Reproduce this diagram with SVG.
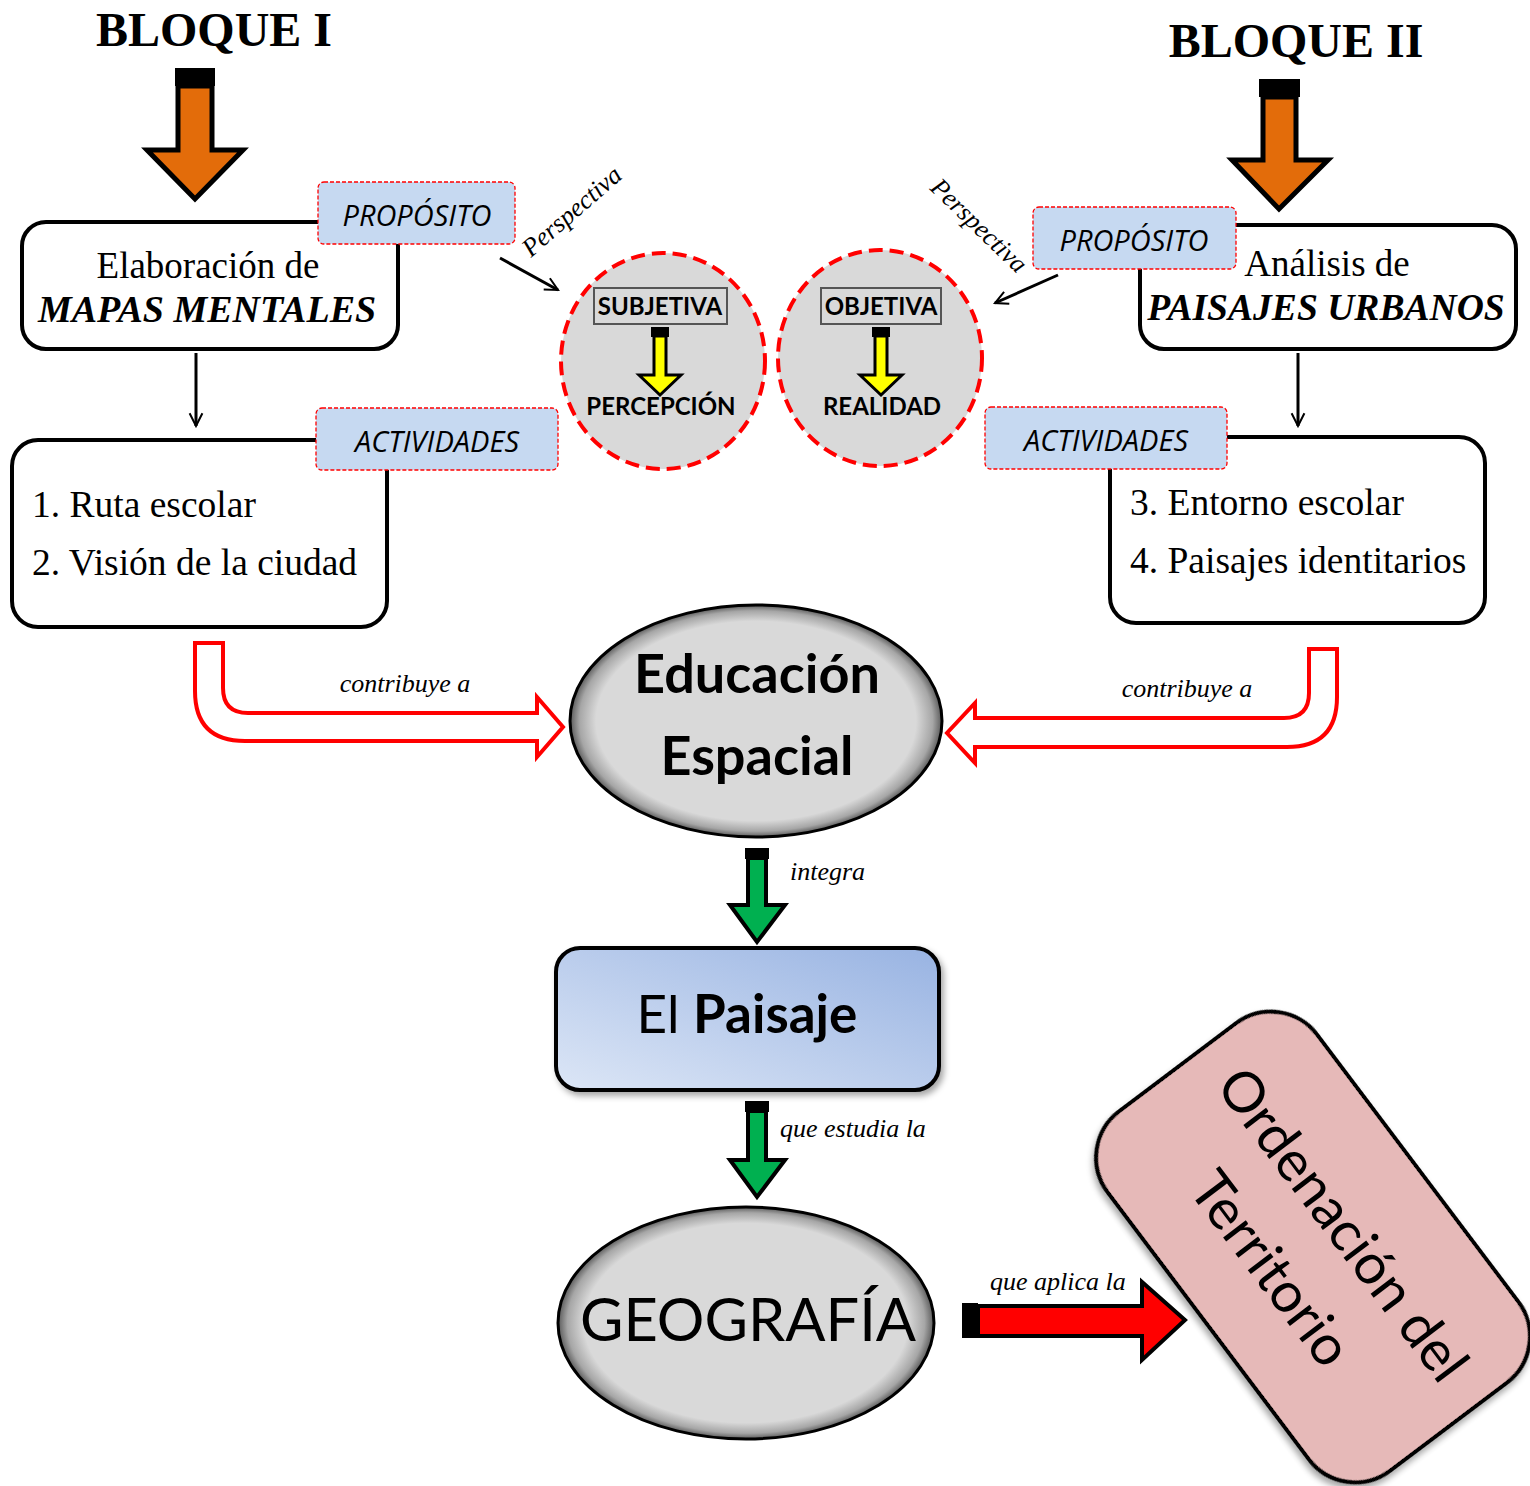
<svg xmlns="http://www.w3.org/2000/svg" width="1530" height="1486" viewBox="0 0 1530 1486">
<style>
.box{fill:#fff;stroke:#000;stroke-width:4}
.tag{fill:#c6d9f1;stroke:#ff0000;stroke-width:1.3;stroke-dasharray:4 2}
.tagt{font-family:"Open Sans",sans-serif;font-style:italic;font-size:29px;fill:#000;text-anchor:middle}
.ser{font-family:"Liberation Serif",serif;fill:#000}
.lbl{font-family:"Liberation Serif",serif;font-style:italic;font-size:26px;fill:#000}
.cal{font-family:Lato,"Open Sans",sans-serif;fill:#000}
.circ{fill:#d9d9d9;stroke:#ff0000;stroke-width:4;stroke-dasharray:14 7}
.thin{stroke:#000;stroke-width:3;fill:none}
.hollow{fill:#fff;stroke:#ff0000;stroke-width:4;stroke-linejoin:miter}
.blk{stroke:#000;stroke-linejoin:miter}
</style>
<defs>
<marker id="open" viewBox="0 0 20 20" refX="18" refY="10" markerWidth="16" markerHeight="16" markerUnits="userSpaceOnUse" orient="auto">
<path d="M2,2 L18,10 L2,18" fill="none" stroke="#000" stroke-width="2.5"/>
</marker>
<radialGradient id="bevel" cx="0.5" cy="0.5" r="0.5">
<stop offset="0" stop-color="#d9d9d9"/>
<stop offset="0.86" stop-color="#d9d9d9"/>
<stop offset="0.95" stop-color="#a6a6a6"/>
<stop offset="1" stop-color="#5a5a5a"/>
</radialGradient>
<linearGradient id="blue" x1="0" y1="1" x2="1" y2="0">
<stop offset="0" stop-color="#dce6f6"/>
<stop offset="1" stop-color="#98b3e2"/>
</linearGradient>
<filter id="sh" x="-10%" y="-10%" width="125%" height="125%">
<feGaussianBlur in="SourceAlpha" stdDeviation="3"/>
<feOffset dx="3" dy="4" result="b"/>
<feFlood flood-color="#000" flood-opacity="0.35"/>
<feComposite in2="b" operator="in"/>
<feMerge><feMergeNode/><feMergeNode in="SourceGraphic"/></feMerge>
</filter>
</defs>

<g id="bloque1">
<text class="ser" x="214" y="46" font-size="48" font-weight="bold" text-anchor="middle">BLOQUE I</text>
</g>
<g id="bloque2">
<text class="ser" x="1296" y="57" font-size="48" font-weight="bold" text-anchor="middle">BLOQUE II</text>
</g>

<g id="box-mapas">
<rect class="box" x="22" y="222" width="376" height="127" rx="24"/>
<text class="ser" x="208" y="278" font-size="37" text-anchor="middle">Elaboración de</text>
<text class="ser" x="207" y="322" font-size="38" font-weight="bold" font-style="italic" text-anchor="middle">MAPAS MENTALES</text>
</g>
<g id="tag-proposito-1">
<rect class="tag" x="318" y="182" width="197" height="62" rx="6"/>
<text class="tagt" x="417" y="226">PROPÓSITO</text>
</g>

<g id="box-act1">
<rect class="box" x="12" y="440" width="375" height="187" rx="26"/>
<text class="ser" x="32" y="517" font-size="37.5">1. Ruta escolar</text>
<text class="ser" x="32" y="575" font-size="37.5">2. Visión de la ciudad</text>
</g>
<g id="tag-actividades-1">
<rect class="tag" x="316" y="408" width="242" height="62" rx="6"/>
<text class="tagt" x="437" y="452" font-size="30">ACTIVIDADES</text>
</g>

<g id="box-paisajes">
<rect class="box" x="1140" y="225" width="376" height="124" rx="24"/>
<text class="ser" x="1327" y="276" font-size="37" text-anchor="middle">Análisis de</text>
<text class="ser" x="1326" y="320" font-size="37.6" font-weight="bold" font-style="italic" text-anchor="middle">PAISAJES URBANOS</text>
</g>
<g id="tag-proposito-2">
<rect class="tag" x="1033" y="207" width="203" height="62" rx="6"/>
<text class="tagt" x="1134" y="251">PROPÓSITO</text>
</g>

<g id="box-act2">
<rect class="box" x="1110" y="437" width="375" height="186" rx="26"/>
<text class="ser" x="1130" y="515" font-size="37.5">3. Entorno escolar</text>
<text class="ser" x="1130" y="573" font-size="37.5">4. Paisajes identitarios</text>
</g>
<g id="tag-actividades-2">
<rect class="tag" x="985" y="407" width="242" height="62" rx="6"/>
<text class="tagt" x="1106" y="451" font-size="30">ACTIVIDADES</text>
</g>

<g id="circle-subjetiva">
<ellipse class="circ" cx="663" cy="361" rx="102" ry="108"/>
<rect x="594" y="288" width="133" height="36" fill="#d9d9d9" stroke="#555" stroke-width="2"/>
<text class="cal" x="660" y="315" font-size="24" font-weight="bold" text-anchor="middle">SUBJETIVA</text>
<rect x="651" y="327" width="18" height="10" fill="#000"/>
<path class="blk" d="M654,336 L666,336 L666,375 L681,375 L660,395 L639,375 L654,375 Z" fill="#ffff00" stroke-width="3"/>
<text class="cal" x="661" y="415" font-size="24" font-weight="bold" text-anchor="middle">PERCEPCIÓN</text>
</g>

<g id="circle-objetiva">
<ellipse class="circ" cx="880" cy="358" rx="102" ry="108"/>
<rect x="821" y="288" width="120" height="36" fill="#d9d9d9" stroke="#555" stroke-width="2"/>
<text class="cal" x="881" y="315" font-size="24" font-weight="bold" text-anchor="middle">OBJETIVA</text>
<rect x="872" y="327" width="18" height="10" fill="#000"/>
<path class="blk" d="M875,336 L887,336 L887,375 L902,375 L881,395 L860,375 L875,375 Z" fill="#ffff00" stroke-width="3"/>
<text class="cal" x="882" y="415" font-size="24" font-weight="bold" text-anchor="middle">REALIDAD</text>
</g>

<g id="educacion-espacial">
<ellipse cx="756" cy="721" rx="186" ry="116" fill="url(#bevel)" stroke="#000" stroke-width="3"/>
<text class="cal" x="757" y="693" font-size="54" font-weight="bold" text-anchor="middle">Educación</text>
<text class="cal" x="757" y="775" font-size="54" font-weight="bold" text-anchor="middle">Espacial</text>
</g>

<g id="el-paisaje">
<rect x="556" y="948" width="383" height="142" rx="24" fill="url(#blue)" stroke="#000" stroke-width="4" filter="url(#sh)"/>
<text class="cal" x="747" y="1033" font-size="53" text-anchor="middle">El <tspan font-weight="bold">Paisaje</tspan></text>
</g>

<g id="geografia">
<ellipse cx="746" cy="1323" rx="188" ry="116" fill="url(#bevel)" stroke="#000" stroke-width="3"/>
<text class="cal" x="748" y="1341" font-size="59.5" text-anchor="middle">GEOGRAFÍA</text>
</g>

<g id="ordenacion">
<g transform="translate(1313,1247) rotate(53)">
<rect x="-225" y="-131" width="450" height="262" rx="58" fill="#e6b9b8" stroke="#000" stroke-width="4" filter="url(#sh)"/>
<text class="cal" x="0" y="-18" font-size="56" text-anchor="middle">Ordenación del</text>
<text class="cal" x="-8" y="66" font-size="56" text-anchor="middle">Territorio</text>
</g>
</g>

<g id="connectors">
<rect x="175" y="68" width="40" height="18" fill="#000"/>
<path class="blk" d="M178,86 L212,86 L212,150 L243,150 L195,199 L147,150 L178,150 Z" fill="#e36c0a" stroke-width="5"/>
<rect x="1259" y="79" width="41" height="18" fill="#000"/>
<path class="blk" d="M1263,97 L1296,97 L1296,160 L1328,160 L1279,209 L1232,160 L1263,160 Z" fill="#e36c0a" stroke-width="5"/>

<line class="thin" x1="196" y1="353" x2="196" y2="426" marker-end="url(#open)"/>
<line class="thin" x1="1298" y1="353" x2="1298" y2="426" marker-end="url(#open)"/>

<line class="thin" x1="500" y1="258" x2="558" y2="290" marker-end="url(#open)"/>
<text class="lbl" transform="translate(531,258) rotate(-41)" font-size="27">Perspectiva</text>
<line class="thin" x1="1058" y1="275" x2="995" y2="303" marker-end="url(#open)"/>
<text class="lbl" transform="translate(929,189) rotate(44)" font-size="27">Perspectiva</text>

<path class="hollow" d="M195,643 L223,643 L223,688 Q223,713 248,713 L537,713 L537,697 L563,727 L537,757 L537,741 L245,741 Q195,741 195,691 Z"/>
<text class="lbl" x="405" y="692" text-anchor="middle">contribuye a</text>
<path class="hollow" d="M1337,649 L1309,649 L1309,693 Q1309,718 1284,718 L975,718 L975,703 L947,733 L975,763 L975,747 L1287,747 Q1337,747 1337,697 Z"/>
<text class="lbl" x="1187" y="697" text-anchor="middle">contribuye a</text>

<rect x="745" y="848" width="24" height="11" fill="#000"/>
<path class="blk" d="M748,858 L766,858 L766,905 L785,905 L757,942 L730,905 L748,905 Z" fill="#00b050" stroke-width="4"/>
<text class="lbl" x="790" y="880" font-size="27">integra</text>

<rect x="745" y="1101" width="24" height="11" fill="#000"/>
<path class="blk" d="M748,1111 L766,1111 L766,1160 L785,1160 L757,1197 L730,1160 L748,1160 Z" fill="#00b050" stroke-width="4"/>
<text class="lbl" x="780" y="1137" font-size="27">que estudia la</text>

<rect x="962" y="1303" width="16" height="35" fill="#000"/>
<path class="blk" d="M978,1306 L1142,1306 L1142,1282 L1185,1320 L1142,1360 L1142,1336 L978,1336 Z" fill="#ff0000" stroke-width="4"/>
<text class="lbl" x="990" y="1290" font-size="26.5">que aplica la</text>
</g>
</svg>
